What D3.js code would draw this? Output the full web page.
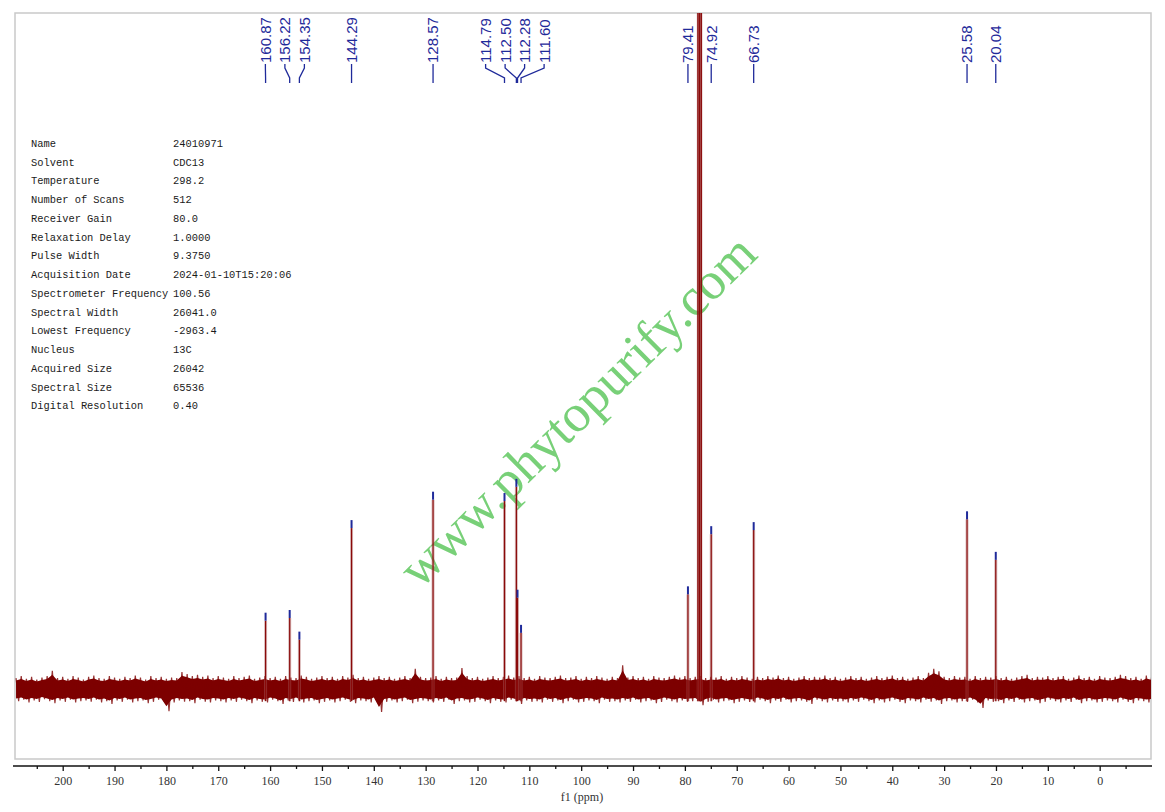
<!DOCTYPE html>
<html>
<head>
<meta charset="utf-8">
<script src="https://cdn.jsdelivr.net/npm/d3@7"></script>
<style>
  body { margin: 0; background: #fff; }
  svg { display: block; }
</style>
</head>
<body>
<div id="nmr-viz"></div>
<script>
// picked peaks (ppm) and their heights above the baseline (arbitrary units)
const peakPpm = [160.87, 156.22, 154.35, 144.29, 128.57, 114.79, 112.50, 112.28, 111.60, 79.41, 74.92, 66.73, 25.58, 20.04]
const peakHeight = [10.1, 10.5, 7.3, 23.8, 28.0, 27.8, 29.9, 13.5, 8.3, 14.0, 22.9, 23.5, 25.1, 19.1]
const peakLabels = ['160.87', '156.22', '154.35', '144.29', '128.57', '114.79', '112.50', '112.28', '111.60', '79.41', '74.92', '66.73', '25.58', '20.04']

// CDCl3 triplet, goes off the top of the plot
const solventPpm = [77.48, 77.16, 76.84]
const solventHeight = [140, 160, 140]

// baseline noise envelope, one value per ppm starting at 209 ppm going down
const noiseStartPpm = 209
const noiseTop = [
  1.6, 1.9, 1.5, 1.8, 1.4, 1.7, 1.9, 2.7, 1.6, 1.8, 1.5, 1.9, 1.7, 1.4, 1.8, 2.0, 1.6, 1.5, 1.9, 1.7,
  1.5, 1.8, 1.6, 2.0, 1.7, 1.4, 1.9, 1.6, 1.8, 1.5, 1.7, 1.6, 2.5, 2.2, 1.9, 2.1, 1.8, 2.0, 1.6, 1.9,
  1.7, 1.5, 1.9, 1.6, 1.8, 2.0, 1.5, 1.7, 1.9, 1.6, 1.8, 1.5, 1.9, 1.7, 1.6, 2.0, 1.8, 1.5, 1.7, 1.9,
  1.6, 1.8, 1.5, 1.9, 1.7, 2.1, 1.6, 1.8, 1.5, 1.7, 1.9, 1.6, 1.8, 1.5, 1.7, 1.9, 1.6, 3.0, 1.8, 1.6,
  1.7, 1.9, 1.5, 1.8, 1.6, 1.7, 3.1, 1.9, 1.6, 1.8, 1.5, 1.7, 1.9, 1.6, 1.8, 2.0, 1.7, 1.9, 1.6, 1.8,
  1.5, 1.9, 1.7, 1.6, 1.8, 2.0, 1.6, 1.7, 1.9, 1.5, 1.8, 1.6, 1.9, 1.7, 1.5, 1.8, 1.6, 3.5, 1.7, 1.9,
  1.6, 1.8, 1.5, 1.9, 1.7, 1.6, 1.8, 2.0, 1.7, 1.9, 1.6, 1.8, 1.9, 1.6, 1.8, 1.7, 1.9, 1.5, 1.8, 1.6,
  1.9, 1.7, 1.5, 1.8, 1.6, 1.9, 1.7, 2.0, 1.6, 1.8, 1.5, 1.7, 1.9, 1.6, 1.8, 1.7, 2.0, 1.6, 1.8, 1.5,
  1.7, 1.9, 1.6, 1.8, 1.5, 1.7, 1.9, 1.6, 1.8, 2.0, 1.6, 1.8, 1.5, 1.7, 1.9, 1.6, 2.4, 3.0, 2.6, 1.8,
  1.6, 1.9, 1.7, 1.8, 1.5, 1.9, 1.6, 1.8, 1.7, 1.9, 1.6, 1.8, 1.5, 1.7, 1.9, 2.1, 1.6, 1.8, 1.7, 1.9,
  1.6, 1.8, 1.9, 1.5, 1.7, 2.0, 1.6, 1.8, 1.5, 1.9, 1.7, 1.6, 1.8, 2.1, 1.9, 1.6, 1.8, 1.5, 2.0, 1.7
]
const noiseBottom = [
  -1.8, -1.6, -2.0, -1.7, -1.9, -1.5, -1.8, -2.1, -1.7, -1.9, -1.6, -2.0, -1.8, -1.7, -1.9, -1.6, -2.0, -1.8, -2.2, -1.7,
  -1.9, -1.6, -2.0, -1.8, -1.7, -2.1, -1.9, -1.6, -1.8, -3.3, -2.0, -1.7, -1.9, -1.8, -2.1, -1.6, -1.9, -2.0, -1.7, -1.8,
  -2.0, -1.7, -1.9, -1.6, -1.8, -2.1, -1.7, -1.9, -2.0, -1.6, -1.8, -2.2, -1.7, -1.9, -1.6, -2.0, -1.8, -1.7, -2.1, -1.9,
  -1.7, -2.0, -1.8, -1.6, -1.9, -2.1, -1.7, -1.8, -2.0, -1.6, -3.4, -1.9, -1.7, -2.0, -1.8, -1.6, -2.1, -1.9, -1.7, -1.8,
  -2.0, -1.7, -1.9, -1.6, -2.2, -1.8, -1.7, -2.0, -1.9, -1.6, -1.8, -2.1, -1.7, -1.9, -2.0, -1.6, -1.8, -2.2, -1.7, -1.9,
  -1.8, -2.0, -1.6, -1.9, -1.7, -2.1, -1.8, -1.6, -2.0, -1.9, -1.7, -1.8, -2.1, -1.6, -1.9, -1.8, -2.0, -1.7, -1.9, -1.6,
  -2.0, -1.8, -1.7, -2.1, -1.9, -1.6, -1.8, -2.0, -1.7, -1.9, -1.8, -1.7, -2.4, -1.9, -1.6, -2.0, -1.8, -1.7, -2.1, -1.9,
  -1.7, -1.9, -2.0, -1.6, -1.8, -2.1, -1.7, -1.9, -1.6, -2.0, -1.8, -1.7, -1.9, -2.2, -1.6, -1.8, -2.0, -1.7, -1.9, -1.8,
  -2.0, -1.7, -1.9, -1.6, -1.8, -2.1, -1.7, -2.0, -1.8, -1.6, -1.9, -2.1, -1.7, -1.8, -2.0, -1.6, -1.9, -1.7, -2.2, -1.8,
  -1.7, -2.0, -1.8, -1.9, -1.6, -2.0, -2.8, -1.7, -1.9, -1.8, -2.1, -1.7, -1.9, -1.6, -2.0, -1.8, -1.7, -2.1, -1.9, -1.6,
  -1.8, -2.0, -1.7, -1.9, -1.6, -2.1, -1.8, -1.7, -2.0, -1.9, -1.7, -1.8, -2.0, -1.6, -1.9, -2.1, -1.7, -1.8, -2.0, -1.9
]

// acquisition parameters table
const paramNames = ['Name', 'Solvent', 'Temperature', 'Number of Scans', 'Receiver Gain', 'Relaxation Delay', 'Pulse Width',
  'Acquisition Date', 'Spectrometer Frequency', 'Spectral Width', 'Lowest Frequency', 'Nucleus', 'Acquired Size',
  'Spectral Size', 'Digital Resolution']
const paramValues = ['24010971', 'CDC13', '298.2', '512', '80.0', '1.0000', '9.3750', '2024-01-10T15:20:06', '100.56',
  '26041.0', '-2963.4', '13C', '26042', '65536', '0.40']

const majorTicks = [200, 190, 180, 170, 160, 150, 140, 130, 120, 110, 100, 90, 80, 70, 60, 50, 40, 30, 20, 10, 0]
const minorTicks = [205, 195, 185, 175, 165, 155, 145, 135, 125, 115, 105, 95, 85, 75, 65, 55, 45, 35, 25, 15, 5, -5]

const width = 1165
const height = 812
const frame = { left: 15, top: 13, right: 1151, bottom: 759 }

const RED = '#7d0000'
const BLUE = '#1f2a9a'

const svg = d3.select('#nmr-viz').append('svg')
  .attr('width', width)
  .attr('height', height)

const x = d3.scaleLinear().domain([209.2, -9.9]).range([frame.left, frame.right])
const y = d3.scaleLinear().domain([-10.36, 100]).range([frame.bottom, frame.top])

/**
 * Pushes overlapping peak labels apart, keeping each group centred on its peaks.
 */
function spreadLabels (xs, gap) {
  const groups = xs.map(v => ({ items: [v], center: v }))
  let merged = true
  while (merged) {
    merged = false
    for (let i = 0; i < groups.length - 1; i++) {
      const a = groups[i]
      const b = groups[i + 1]
      const aRight = a.center + (a.items.length - 1) * gap / 2
      const bLeft = b.center - (b.items.length - 1) * gap / 2
      if (bLeft - aRight < gap) {
        const items = a.items.concat(b.items)
        groups.splice(i, 2, { items: items, center: d3.mean(items) })
        merged = true
        break
      }
    }
  }
  return groups.flatMap(g => g.items.map((v, k) => g.center + (k - (g.items.length - 1) / 2) * gap))
}

/**
 * Frame around the spectrum.
 */
function drawFrame () {
  svg.append('defs').append('clipPath').attr('id', 'plot-clip')
    .append('rect')
    .attr('x', frame.left).attr('y', frame.top)
    .attr('width', frame.right - frame.left).attr('height', frame.bottom - frame.top)

  svg.append('rect')
    .attr('x', frame.left).attr('y', frame.top)
    .attr('width', frame.right - frame.left).attr('height', frame.bottom - frame.top)
    .attr('fill', 'none')
    .attr('stroke', '#c9c9c9')
    .attr('stroke-width', 1.5)
}

/**
 * Parameter table on the upper left.
 */
function drawParams () {
  const g = svg.append('g')
    .style('font-family', '"Liberation Mono", "DejaVu Sans Mono", monospace')
    .style('font-size', '10.4px')
    .attr('fill', '#1a1a1a')
  const rowY = i => 147 + i * 18.74
  g.selectAll('text.pname').data(paramNames).join('text')
    .attr('class', 'pname')
    .attr('x', 31).attr('y', (d, i) => rowY(i))
    .text(d => d)
  g.selectAll('text.pvalue').data(paramValues).join('text')
    .attr('class', 'pvalue')
    .attr('x', 173).attr('y', (d, i) => rowY(i))
    .text(d => d)
}

function drawWatermark () {
  svg.append('text')
    .attr('transform', 'translate(420,590) rotate(-44.5)')
    .style('font-family', '"Liberation Serif", "DejaVu Serif", serif')
    .style('font-size', '53px')
    .attr('fill', '#78d078')
    .text('www.phytopurify.com')
}

/**
 * Baseline noise, peaks and peak markers.
 */
function drawSpectrum () {
  const g = svg.append('g').attr('clip-path', 'url(#plot-clip)')
  const idx = d3.range(noiseTop.length)

  // dense core of the noise
  const core = d3.area()
    .x(i => x(noiseStartPpm - i))
    .y0(i => y(noiseBottom[i] * 0.78))
    .y1(i => y(noiseTop[i] * 0.78))

  g.append('path')
    .datum(idx)
    .attr('d', core)
    .attr('fill', RED)

  // spiky trace bouncing between the envelope values
  const trace = idx.flatMap(i => [[x(noiseStartPpm - i), y(noiseTop[i])], [x(noiseStartPpm - i - 0.5), y(noiseBottom[i])]])
  g.append('path')
    .attr('d', d3.line()(trace))
    .attr('fill', 'none')
    .attr('stroke', RED)
    .attr('stroke-opacity', 0.8)
    .attr('stroke-width', 1.2)

  const lines = peakPpm.map((p, i) => ({ ppm: p, h: peakHeight[i] }))
    .concat(solventPpm.map((p, i) => ({ ppm: p, h: solventHeight[i] })))

  // soft halo behind each line, then the core
  g.selectAll('line.halo').data(lines).join('line')
    .attr('class', 'halo')
    .attr('x1', d => x(d.ppm)).attr('x2', d => x(d.ppm))
    .attr('y1', y(-1.8)).attr('y2', d => y(d.h))
    .attr('stroke', 'rgba(170,100,100,0.45)')
    .attr('stroke-width', d => d.h > 100 ? 2.4 : 3)
  g.selectAll('line.core').data(lines).join('line')
    .attr('class', 'core')
    .attr('x1', d => x(d.ppm)).attr('x2', d => x(d.ppm))
    .attr('y1', y(-1.8)).attr('y2', d => y(d.h))
    .attr('stroke', '#8a0a0a')
    .attr('stroke-width', d => d.h > 100 ? 1.4 : 1.2)

  g.selectAll('line.marker').data(lines.filter(d => d.h < 100)).join('line')
    .attr('class', 'marker')
    .attr('x1', d => x(d.ppm)).attr('x2', d => x(d.ppm))
    .attr('y1', d => y(d.h) - 8).attr('y2', d => y(d.h))
    .attr('stroke', BLUE)
    .attr('stroke-width', 2)
}

/**
 * Peak labels along the top with their connector lines.
 */
function drawPeakLabels () {
  const px = peakPpm.map(p => x(p))
  const lx = spreadLabels(px, 19.5)
  const g = svg.append('g')

  g.selectAll('path.connector').data(px).join('path')
    .attr('class', 'connector')
    .attr('d', (d, i) => d3.line()([[lx[i], 64], [lx[i], 68], [d, 78], [d, 83]]))
    .attr('fill', 'none')
    .attr('stroke', BLUE)
    .attr('stroke-width', 1.3)

  g.selectAll('text').data(peakLabels).join('text')
    .attr('transform', (d, i) => `translate(${lx[i]},63) rotate(-90)`)
    .attr('dy', '0.36em')
    .style('font-family', '"Liberation Sans", Arial, sans-serif')
    .style('font-size', '15px')
    .attr('fill', BLUE)
    .text(d => d)
}

/**
 * ppm axis under the frame.
 */
function drawAxis () {
  const axisY = 766
  const major = svg.append('g')
    .attr('transform', `translate(0,${axisY})`)
    .call(d3.axisBottom(x).tickValues(majorTicks).tickSize(5).tickSizeOuter(0).tickPadding(5).tickFormat(d3.format('d')))
  major.select('.domain').attr('stroke', '#111').attr('stroke-width', 1.6)
    .attr('d', `M${frame.left - 2},0H${frame.right + 1}`)
  major.selectAll('.tick line').attr('stroke', '#111').attr('stroke-width', 1.3)
  major.selectAll('.tick text')
    .style('font-family', '"Liberation Serif", "DejaVu Serif", serif')
    .style('font-size', '12px')
    .attr('fill', '#333')

  const minor = svg.append('g')
    .attr('transform', `translate(0,${axisY})`)
    .call(d3.axisBottom(x).tickValues(minorTicks).tickSize(3).tickSizeOuter(0).tickFormat(''))
  minor.select('.domain').remove()
  minor.selectAll('.tick line').attr('stroke', '#111').attr('stroke-width', 1.3)

  svg.append('text')
    .attr('x', 582).attr('y', 801)
    .attr('text-anchor', 'middle')
    .style('font-family', '"Liberation Serif", "DejaVu Serif", serif')
    .style('font-size', '12px')
    .attr('fill', '#333')
    .text('f1 (ppm)')
}

drawFrame()
drawParams()
drawWatermark()
drawSpectrum()
drawPeakLabels()
drawAxis()
</script>
</body>
</html>
